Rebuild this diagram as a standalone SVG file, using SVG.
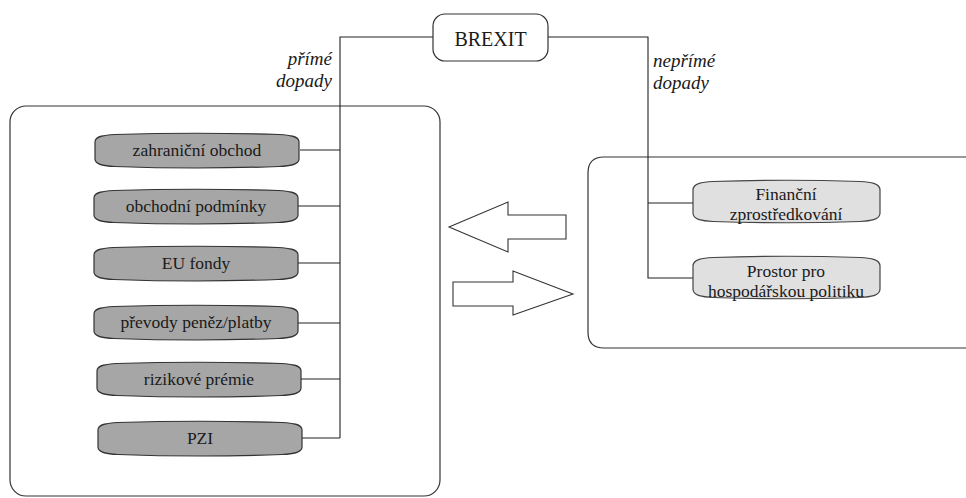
<svg xmlns="http://www.w3.org/2000/svg" xmlns:xlink="http://www.w3.org/1999/xlink" width="966" height="498" viewBox="0 0 966 498">
<style>
.frame{fill:none;stroke:#333;stroke-width:1.2}
.conn{fill:none;stroke:#222;stroke-width:1.1}
.dark{fill:#a6a6a6;stroke:#333;stroke-width:1.2}
.light{fill:#e0e0e0;stroke:#444;stroke-width:1.2}
.arrow{fill:#fff;stroke:#333;stroke-width:1.1}
</style>
<defs>
<path id="gshape" d="M0,9 C0,3 10,2 20,1.5 Q102,-1 184,1.5 C194,2 204,3 204,9 L204,26 C204,32 194,33 184,33.5 Q102,36.5 20,33.5 C10,33 0,32 0,26 Z"/>
<path id="lshape" d="M0,10 C0,3 10,2 20,1.5 Q93.5,-1 167,1.5 C177,2 187,3 187,10 L187,33 C187,40 177,41 167,41.5 Q93.5,44 20,41.5 C10,41 0,40 0,33 Z"/>
</defs>

<g id="frames">
<rect class="frame" x="10" y="106" width="430" height="390" rx="16"/>
<path class="frame" d="M970,157 L604,157 Q588,157 588,173 L588,332 Q588,348 604,348 L970,348"/>
</g>

<g id="connectors">
<polyline class="conn" points="433,37 340,37 340,438"/>
<line class="conn" x1="300" y1="150" x2="340" y2="150"/>
<line class="conn" x1="298" y1="206" x2="340" y2="206"/>
<line class="conn" x1="298" y1="263" x2="340" y2="263"/>
<line class="conn" x1="298" y1="323" x2="340" y2="323"/>
<line class="conn" x1="301" y1="379" x2="340" y2="379"/>
<line class="conn" x1="302" y1="438" x2="340" y2="438"/>
<polyline class="conn" points="548,37 648,37 648,278 693,278"/>
<line class="conn" x1="648" y1="203" x2="693" y2="203"/>
</g>

<g id="brexit">
<rect x="433" y="14" width="115" height="47" rx="12" fill="#fff" stroke="#333" stroke-width="1.2"/>
<text x="490.5" y="46" text-anchor="middle" fill="#1a1a1a" style="font-family:'Liberation Serif',serif;font-size:20px">BREXIT</text>
</g>

<g id="label-prime" fill="#1a1a1a">
<text x="332" y="65" text-anchor="end" style="font-family:'Liberation Serif',serif;font-size:19px;font-style:italic">přímé</text>
<text x="332" y="87" text-anchor="end" style="font-family:'Liberation Serif',serif;font-size:19px;font-style:italic">dopady</text>
</g>
<g id="label-neprime" fill="#1a1a1a">
<text x="653" y="67" style="font-family:'Liberation Serif',serif;font-size:19px;font-style:italic">nepřímé</text>
<text x="653" y="89" style="font-family:'Liberation Serif',serif;font-size:19px;font-style:italic">dopady</text>
</g>

<g id="n-zahranicni" fill="#1a1a1a" text-anchor="middle"><use xlink:href="#gshape" class="dark" x="95" y="133"/><text x="197" y="156" style="font-family:'Liberation Serif',serif;font-size:17.5px">zahraniční obchod</text></g>
<g id="n-obchodni" fill="#1a1a1a" text-anchor="middle"><use xlink:href="#gshape" class="dark" x="94" y="189"/><text x="196" y="212" style="font-family:'Liberation Serif',serif;font-size:17.5px">obchodní podmínky</text></g>
<g id="n-eufondy" fill="#1a1a1a" text-anchor="middle"><use xlink:href="#gshape" class="dark" x="94" y="246"/><text x="196" y="269" style="font-family:'Liberation Serif',serif;font-size:17.5px">EU fondy</text></g>
<g id="n-prevody" fill="#1a1a1a" text-anchor="middle"><use xlink:href="#gshape" class="dark" x="94" y="305"/><text x="196" y="328" style="font-family:'Liberation Serif',serif;font-size:17.5px">převody peněz/platby</text></g>
<g id="n-rizikove" fill="#1a1a1a" text-anchor="middle"><use xlink:href="#gshape" class="dark" x="97" y="362"/><text x="199" y="385" style="font-family:'Liberation Serif',serif;font-size:17.5px">rizikové prémie</text></g>
<g id="n-pzi" fill="#1a1a1a" text-anchor="middle"><use xlink:href="#gshape" class="dark" x="98" y="421"/><text x="200" y="444" style="font-family:'Liberation Serif',serif;font-size:17.5px">PZI</text></g>

<g id="n-financni" fill="#1a1a1a" text-anchor="middle"><use xlink:href="#lshape" class="light" x="693" y="180"/><text x="786" y="200" style="font-family:'Liberation Serif',serif;font-size:17.5px">Finanční</text><text x="786" y="220" style="font-family:'Liberation Serif',serif;font-size:17.5px">zprostředkování</text></g>
<g id="n-prostor" fill="#1a1a1a" text-anchor="middle"><use xlink:href="#lshape" class="light" x="693" y="256"/><text x="786" y="277" style="font-family:'Liberation Serif',serif;font-size:17.5px">Prostor pro</text><text x="786" y="297" style="font-family:'Liberation Serif',serif;font-size:17.5px">hospodářskou politiku</text></g>

<g id="arrows">
<polygon class="arrow" points="449,227 508,202 508,215 566,215 566,239 508,239 508,252"/>
<polygon class="arrow" points="573,294 513,271 513,282 453,282 453,306 513,306 513,315"/>
</g>
</svg>
